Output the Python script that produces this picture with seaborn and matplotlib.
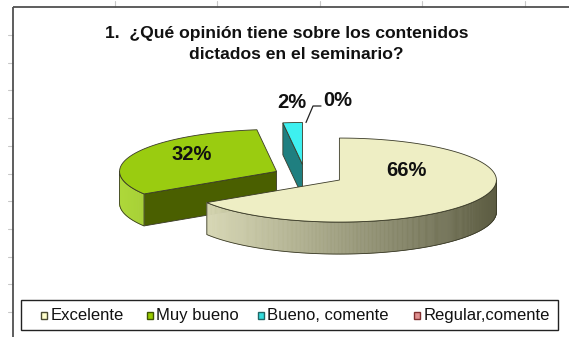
import numpy as np
import matplotlib
matplotlib.use("Agg")
import matplotlib.pyplot as plt
from matplotlib.patches import Polygon, Rectangle
import seaborn as sns

# Survey answers
categories = ["Excelente", "Muy bueno", "Bueno, comente", "Regular,comente"]
values = [66, 32, 2, 0]
pct_labels = ["66%", "32%", "2%", "0%"]
title_lines = ["1.  \u00bfQu\u00e9 opini\u00f3n tiene sobre los contenidos",
               "dictados en el seminario?"]

# Colours: top face, curved wall light/dark, radial wall, legend swatch
top_colors = ["#EEEEC4", "#9ACC10", "#3EF0F0", "#D98C8C"]
wall_light = ["#E2E2BE", "#AED83A", "#40D8D8", "#D08080"]
wall_dark = ["#5C5C42", "#4E6A00", "#106060", "#703030"]
radial_colors = ["#8C8C6A", "#4A5F00", "#1F7F80", "#904040"]
legend_fill = ["#FFFFCC", "#99CC00", "#33DDDD", "#E09090"]
legend_edge = ["#4A4A30", "#3F5500", "#206666", "#803030"]

sns.set_theme(style="white")
plt.rcParams["font.family"] = ["Liberation Sans", "DejaVu Sans"]

W, H = 569, 337
fig = plt.figure(figsize=(W / 100, H / 100), dpi=100)
ax = fig.add_axes([0, 0, 1, 1])
ax.set_xlim(0, W)
ax.set_ylim(H, 0)
ax.axis("off")

# Spreadsheet cell ticks around the chart object
for gy in np.arange(35, H, 27.7):
    ax.plot([8, 13], [gy, gy], color="#C8C8C8", lw=0.8)
for gx in np.arange(115, W, 102.5):
    ax.plot([gx, gx], [1, 7], color="#C8C8C8", lw=0.8)
ax.plot([13, W], [7, 7], color="#505050", lw=1.3, solid_capstyle="butt")
ax.plot([13, 13], [7, H], color="#505050", lw=1.3, solid_capstyle="butt")

# Title
ax.text(287, 38, title_lines[0], ha="center", va="baseline",
        fontsize=12.6, fontweight="bold", color="#111111")
ax.text(296, 59, title_lines[1], ha="center", va="baseline",
        fontsize=12.6, fontweight="bold", color="#111111")

# 3-D pie geometry (pixel space, angles clockwise from 12 o'clock)
cx, cy = 305.0, 175.0
ra, rb = 157.0, 42.0
depth = 32.0
explode = [0.25, 0.2, 0.25, 0.25]

def rim(c, t0, t1, dz=0.0, n=None):
    if n is None:
        n = max(2, int(abs(t1 - t0)) + 2)
    t = np.radians(np.linspace(t0, t1, n))
    return np.column_stack([c[0] + ra * np.sin(t), c[1] - rb * np.cos(t) + dz])

edge_kw = dict(edgecolor="#3A3A28", linewidth=0.6)

total = float(sum(values))
spans = [v / total * 360.0 for v in values]
starts = np.concatenate([[0.0], np.cumsum(spans)[:-1]])

slices = []
for i, (t0, sp) in enumerate(zip(starts, spans)):
    t1 = t0 + sp
    mid = np.radians(t0 + sp / 2)
    c = (cx + explode[i] * ra * np.sin(mid), cy - explode[i] * rb * np.cos(mid))
    slices.append((i, t0, t1, c))

# paint back to front
for i, t0, t1, c in sorted(slices, key=lambda s: s[3][1]):
    if t1 - t0 <= 0:
        continue
    # radial walls facing the viewer
    for t, visible in ((t0, np.sin(np.radians(t0)) < -1e-6),
                       (t1, np.sin(np.radians(t1)) > 1e-6)):
        if visible:
            p = rim(c, t, t, n=1)[0]
            quad = [c, p, (p[0], p[1] + depth), (c[0], c[1] + depth)]
            ax.add_patch(Polygon(quad, closed=True, facecolor=radial_colors[i], **edge_kw))
    # curved outer wall (front half only), shaded from left light to right dark
    ws, we = max(t0, 90.0), min(t1, 270.0)
    if we > ws:
        tt = np.linspace(ws, we, int(we - ws) * 2 + 2)
        lt = np.array(matplotlib.colors.to_rgb(wall_light[i]))
        dk = np.array(matplotlib.colors.to_rgb(wall_dark[i]))
        for k in range(len(tt) - 1):
            seg = rim(c, tt[k], tt[k + 1], n=2)
            f = (1 - np.sin(np.radians((tt[k] + tt[k + 1]) / 2))) / 2
            col = dk + f * (lt - dk)
            poly = np.vstack([seg, (seg + [0, depth])[::-1]])
            ax.add_patch(Polygon(poly, closed=True, facecolor=col, edgecolor=col, linewidth=0.4))
        top = rim(c, ws, we)
        outline = np.vstack([top, (top + [0, depth])[::-1]])
        ax.add_patch(Polygon(outline, closed=True, facecolor="none", **edge_kw))
    # top face
    face = np.vstack([[c], rim(c, t0, t1)])
    ax.add_patch(Polygon(face, closed=True, facecolor=top_colors[i], **edge_kw))

# Leader line for the empty slice
lead0 = rim(slices[3][3], slices[3][1], slices[3][1], n=1)[0]
ax.plot([lead0[0] + 1, 313, 321], [lead0[1], 106, 106], color="#222222", lw=0.9)

# Percentage labels
label_xy = [(406, 171), (192, 154), (292, 102), (338, 100)]
for (lx, ly), txt in zip(label_xy, pct_labels):
    ax.text(lx, ly, txt, ha="center", va="center", fontsize=14.5,
            fontweight="bold", color="#111111")

# Legend box with one swatch + label per category
ax.add_patch(Rectangle((21, 300), 537, 30, facecolor="white",
                       edgecolor="#222222", linewidth=1.0))
swatch_x = [41, 147, 258, 414]
for sx, lab, f, e in zip(swatch_x, categories, legend_fill, legend_edge):
    ax.add_patch(Rectangle((sx, 312), 6.5, 6.5, facecolor=f, edgecolor=e, linewidth=1.0))
    ax.text(sx + 9.5, 315.5, lab, ha="left", va="center", fontsize=12,
            color="#111111")

fig.savefig("out.png", dpi=100, facecolor="white")
